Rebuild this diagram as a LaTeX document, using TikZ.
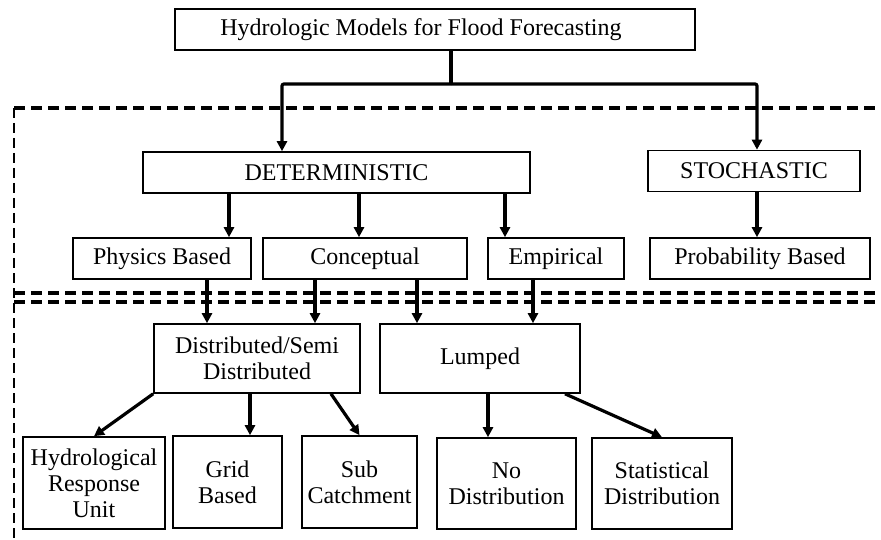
\documentclass[tikz,border=0pt]{standalone}
\usepackage{fontspec}
\setmainfont{Liberation Serif}
\usetikzlibrary{arrows.meta}

\begin{document}
\begin{tikzpicture}[
  x=1pt, y=-1pt,
  >={Triangle[length=10pt,width=10pt]},
  box/.style={draw, line width=1.6pt, inner sep=0pt, align=center,
    minimum height=41pt, font=\fontsize{24}{26}\selectfont},
  link/.style={->, line width=3.2pt},
  sep/.style={line width=4pt, dash pattern=on 11pt off 6pt}
  ]
\useasboundingbox (0,0) rectangle (881,540);
%\draw [ultra thin, lightgray] (0,0) grid (881,540);
\draw [sep] (14,108) -- (881,108);
\draw [sep] (14,293) -- (881,293);
\draw [sep] (14,302) -- (881,302);
\draw [line width=1.5pt, dash pattern=on 10pt off 5pt] (14,108) -- (14,540);
\node [box, minimum width=520pt] (title) at (435,29.5) {Hydrologic Models for Flood Forecasting\hspace*{28pt}};
\node [box, minimum width=387pt] (det) at (336.5,172.5) {DETERMINISTIC};
\node [box, minimum width=212pt] (sto) at (754,171) {STOCHASTIC};
\node [box, minimum width=178pt] (phys) at (162,258.5) {Physics Based};
\node [box, minimum width=204pt] (conc) at (365,258.5) {Conceptual};
\node [box, minimum width=136pt] (emp) at (556,258.5) {Empirical};
\node [box, minimum width=220pt] (prob) at (760,258.5) {Probability Based};
\node [box, minimum width=206pt, minimum height=69pt] (dist) at (257,358.5) {Distributed/Semi\\Distributed};
\node [box, minimum width=200pt, minimum height=69pt] (lump) at (480,358.5) {Lumped};
\node [box, minimum width=142pt, minimum height=92pt] (hru) at (94,483) {Hydrological\\Response\\Unit};
\node [box, minimum width=109pt, minimum height=92pt] (grid) at (227.5,482) {Grid\\Based};
\node [box, minimum width=115pt, minimum height=92pt] (sub) at (359.5,482) {Sub\\Catchment};
\node [box, minimum width=139pt, minimum height=91pt] (nodist) at (506.5,483.5) {No\\Distribution};
\node [box, minimum width=140pt, minimum height=91pt] (stat) at (662,483.5) {Statistical\\Distribution};
\coordinate (fork) at (451,84);
\draw [line width=3.2pt] (title.south -| fork) -- (fork);
\draw [link, rounded corners=2pt] (fork) -| (det.north -| 282,0);
\draw [link, rounded corners=2pt] (fork) -| (sto.north -| 757,0);
\draw [link] (det.south -| 229,0) -- (phys.north -| 229,0);
\draw [link] (det.south -| 359,0) -- (conc.north -| 359,0);
\draw [link] (det.south -| 505,0) -- (emp.north -| 505,0);
\draw [link] (sto.south -| 757,0) -- (prob.north -| 757,0);
\draw [link] (phys.south -| 207,0) -- (dist.north -| 207,0);
\draw [link] (conc.south -| 315,0) -- (dist.north -| 315,0);
\draw [link] (conc.south -| 417,0) -- (lump.north -| 417,0);
\draw [link] (emp.south -| 533,0) -- (lump.north -| 533,0);
\draw [link] (dist.south west) -- (hru.north);
\draw [link] (dist.south -| 250,0) -- (grid.north -| 250,0);
\draw [link] (dist.south -| 331,0) -- (sub.north);
\draw [link] (lump.south -| 488,0) -- (nodist.north -| 488,0);
\draw [link] (lump.south -| 565,0) -- (stat.north);
\end{tikzpicture}
\end{document}
